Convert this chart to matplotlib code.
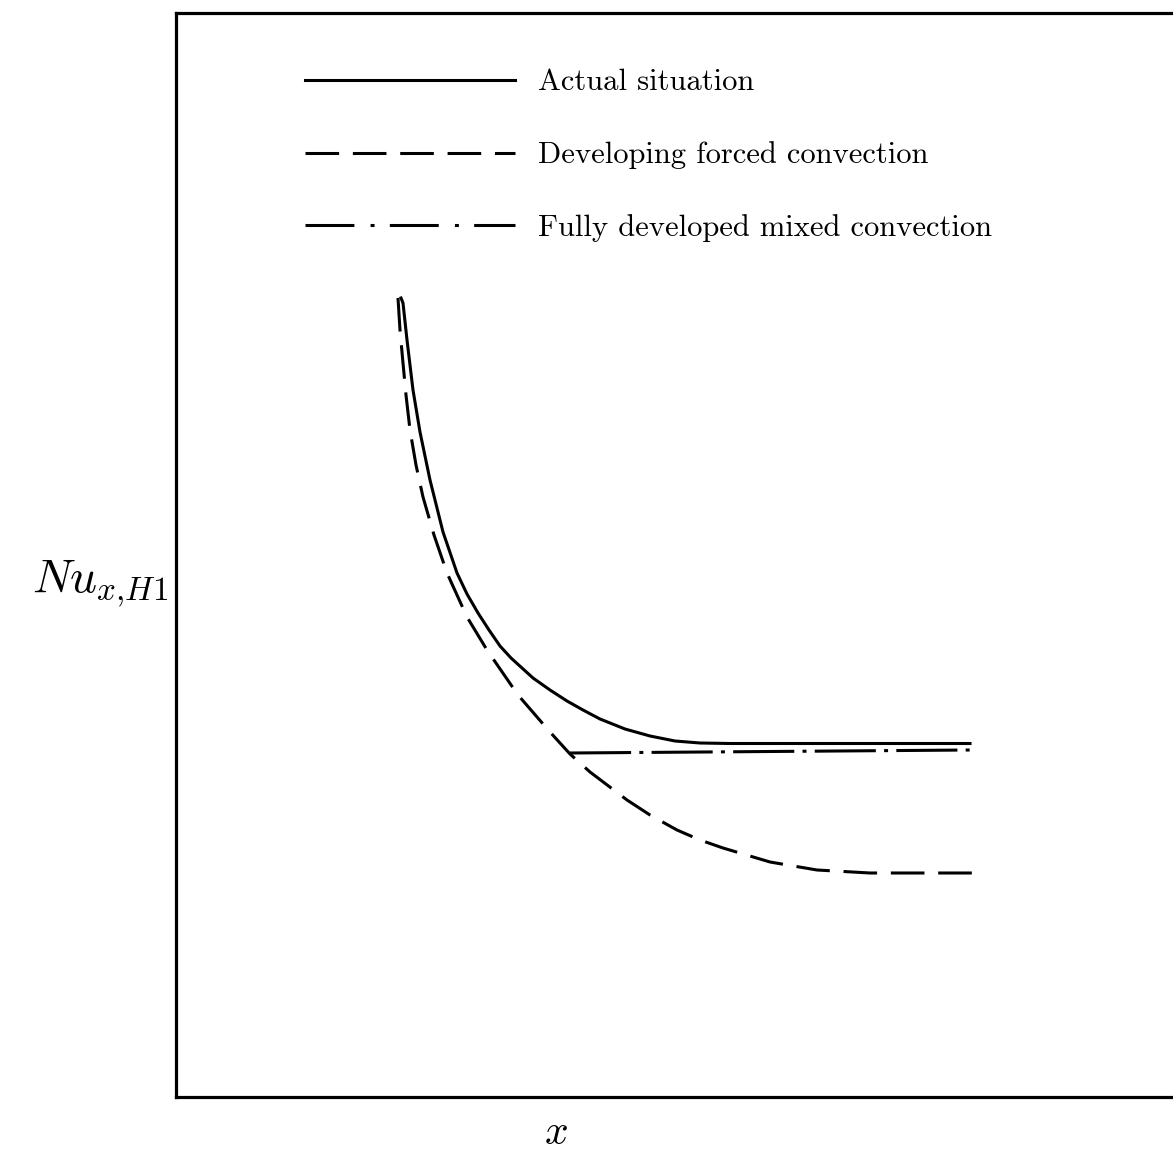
import matplotlib
matplotlib.use("Agg")
import matplotlib.pyplot as plt
from matplotlib.lines import Line2D

plt.rcParams["mathtext.fontset"] = "cm"
plt.rcParams["axes.formatter.use_mathtext"] = True

# Curves in arbitrary axial-position / Nusselt-number units
actual_x = [2.25, 2.27, 2.31, 2.37, 2.44, 2.54, 2.67, 2.81, 2.91, 3.02, 3.13,
            3.24, 3.35, 3.46, 3.57, 3.74, 3.91, 4.07, 4.24, 4.49, 4.74, 4.99,
            5.24, 5.54, 7.94]
actual_y = [7.99, 7.94, 7.57, 7.07, 6.65, 6.17, 5.65, 5.24, 5.03, 4.84, 4.67,
            4.51, 4.39, 4.29, 4.19, 4.07, 3.96, 3.87, 3.78, 3.68, 3.61, 3.56,
            3.54, 3.535, 3.535]

forced_x = [2.22, 2.24, 2.27, 2.30, 2.34, 2.40, 2.47, 2.58, 2.71, 2.91, 3.11,
            3.42, 3.74, 3.94, 4.14, 4.51, 4.74, 5.01, 5.24, 5.47, 5.94, 6.41,
            6.94, 8.09]
forced_y = [7.99, 7.67, 7.34, 7.02, 6.67, 6.32, 6.00, 5.62, 5.24, 4.80, 4.47,
            4.02, 3.65, 3.43, 3.25, 2.97, 2.82, 2.67, 2.57, 2.49, 2.35, 2.27,
            2.24, 2.24]

mixed_x = [3.94, 7.94]
mixed_y = [3.44, 3.47]

labels = ["Actual situation", "Developing forced convection",
          "Fully developed mixed convection"]

W, H = 1173, 1159
fig = plt.figure(figsize=(W / 100, H / 100), dpi=100)
ax = fig.add_axes([176 / W, 1 - 1097 / H, 1020 / W, 1084 / H])
ax.set_xlim(0, 10.2)
ax.set_ylim(0, 10.84)

lw = 2.2
ax.plot(actual_x, actual_y, color="black", lw=lw, solid_joinstyle="round")
ax.plot(forced_x, forced_y, color="black", lw=lw, dashes=(11, 4.5))
ax.plot(mixed_x, mixed_y, color="black", lw=lw, dashes=(20, 2.7, 1.3, 2.7))

for side in ("left", "bottom", "top"):
    ax.spines[side].set_linewidth(2.3)
ax.spines["right"].set_visible(False)
ax.set_xticks([])
ax.set_yticks([])

ax.set_ylabel(r"$Nu_{x{,}H1}$", rotation=0, fontsize=34, ha="center", va="center")
ax.yaxis.set_label_coords(-0.0745, 0.474)
ax.set_xlabel(r"$x$", fontsize=30, ha="center", va="center")
ax.xaxis.set_label_coords(0.3725, -0.032)

# Key handles: the dash-dot key uses wider gaps around the dots
handles = [
    Line2D([], [], color="black", lw=lw),
    Line2D([], [], color="black", lw=lw, dashes=(11, 4.5)),
    Line2D([], [], color="black", lw=lw, dashes=(16, 5.3, 1.3, 5.0)),
]
ax.legend(handles, labels, loc="upper left", bbox_to_anchor=(305 / W, 1 - 69 / H),
          bbox_transform=fig.transFigure, frameon=False, borderpad=0,
          borderaxespad=0, handlelength=6.86, handletextpad=0.75,
          labelspacing=1.47, prop={"family": "cmr10", "size": 22})

fig.savefig("out.png", dpi=100, facecolor="white")
